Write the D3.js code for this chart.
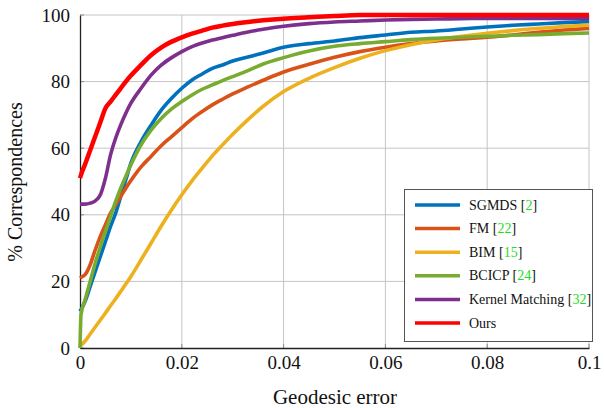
<!DOCTYPE html>
<html>
<head>
<meta charset="utf-8">
<script src="https://cdn.jsdelivr.net/npm/d3@7"></script>
<style>
  body { margin: 0; background: #fff; }
</style>
</head>
<body>
<div class="container"></div>
<script>
const width = 604;
const height = 408;
const serif = "'Liberation Serif', 'DejaVu Serif', serif";

// geodesic error values (shared x samples)
const errors = [0, 0.0002, 0.001, 0.002, 0.003, 0.004, 0.005, 0.006, 0.007, 0.008, 0.009, 0.010,
  0.012, 0.014, 0.016, 0.018, 0.020, 0.022, 0.024, 0.026, 0.028, 0.030, 0.033, 0.036, 0.040,
  0.045, 0.050, 0.055, 0.060, 0.065, 0.070, 0.075, 0.080, 0.085, 0.090, 0.095, 0.100];

const sgmds = [11, 11.5, 14, 18.5, 23, 27.5, 32, 36.5, 40.5, 45.5, 50.5, 55.5,
  62, 67, 71.5, 75, 78, 80.5, 82.3, 84, 85, 86.2, 87.4, 88.6, 90.3,
  91.4, 92.2, 93.2, 94, 94.8, 95.2, 95.8, 96.4, 96.9, 97.3, 97.7, 98];
const fm = [21, 21.2, 22, 25, 29.5, 33.5, 37, 40.5, 43, 45.5, 48, 50.3,
  54.4, 57.6, 60.8, 63.5, 66.2, 68.8, 71, 73, 74.7, 76.3, 78.4, 80.4, 82.9,
  85.2, 87.3, 89, 90.3, 91.4, 92.2, 92.8, 93.3, 94, 94.8, 95.5, 96];
const bim = [0.5, 0.8, 2.1, 4.2, 6.3, 8.4, 10.5, 12.7, 14.8, 17, 19.2, 21.5,
  26.5, 31.6, 36.7, 41.5, 46, 50.2, 54, 57.7, 61, 64.2, 68.6, 72.6, 77,
  81, 84.2, 87, 89.3, 91.1, 92.5, 93.6, 94.5, 95.3, 96, 96.5, 97];
const bcicp = [0, 10, 14.5, 20, 25.5, 30.5, 35, 39.5, 44, 48, 51.5, 55,
  61, 65.5, 69, 71.8, 74, 76, 77.7, 79, 80.3, 81.5, 83.3, 85.3, 87.2,
  89.2, 90.6, 91.4, 92, 92.6, 93, 93.3, 93.6, 93.9, 94.1, 94.4, 94.6];
const kernel = [43.2, 43.2, 43.2, 43.5, 44.2, 46, 51, 58, 63, 67, 70.5, 73.5,
  78, 82, 85, 87.2, 89, 90.5, 91.6, 92.5, 93.2, 93.9, 94.9, 95.7, 96.6,
  97.4, 97.9, 98.2, 98.5, 98.7, 98.8, 98.9, 99, 99, 99, 99, 99];
const ours = [51, 52, 55.2, 59.4, 63.6, 67.8, 72, 74, 76, 78, 80, 81.8,
  85, 88, 90.3, 92, 93.3, 94.4, 95.3, 96.2, 96.8, 97.3, 97.9, 98.4, 98.9,
  99.3, 99.7, 100, 100, 100, 100, 100, 100, 100, 100, 100, 100];

const names = ["SGMDS", "FM", "BIM", "BCICP", "Kernel Matching", "Ours"];
const refs = ["2", "22", "15", "24", "32", null];
const colors = ["#0072BD", "#D95319", "#EDB120", "#77AC30", "#7E2F8E", "#FF0000"];
const allSeries = [sgmds, fm, bim, bcicp, kernel, ours];

const xTicks = [0, 0.02, 0.04, 0.06, 0.08, 0.1];
const yTicks = [0, 20, 40, 60, 80, 100];

const svg = d3.select(".container")
    .append("svg")
    .attr("width", width)
    .attr("height", height)
    .attr("font-family", serif);

const xScale = d3.scaleLinear().domain([0, 0.1]).range([80, 589]);
const yScale = d3.scaleLinear().domain([0, 100]).range([348, 15]);

// grid
const grid = svg.append("g");
grid.selectAll(".vx")
    .data(xTicks.slice(1))
    .enter()
    .append("line")
    .attr("x1", d => xScale(d)).attr("x2", d => xScale(d))
    .attr("y1", yScale(0)).attr("y2", yScale(100))
    .attr("stroke", "#c4c4c4").attr("stroke-width", 1);
grid.selectAll(".hy")
    .data(yTicks.slice(1))
    .enter()
    .append("line")
    .attr("x1", xScale(0)).attr("x2", xScale(0.1))
    .attr("y1", d => yScale(d)).attr("y2", d => yScale(d))
    .attr("stroke", "#c4c4c4").attr("stroke-width", 1);

// small inner ticks
grid.selectAll(".tx")
    .data(xTicks)
    .enter()
    .append("line")
    .attr("x1", d => xScale(d)).attr("x2", d => xScale(d))
    .attr("y1", yScale(0)).attr("y2", yScale(0) - 4)
    .attr("stroke", "#8a8a8a");
grid.selectAll(".ty")
    .data(yTicks)
    .enter()
    .append("line")
    .attr("x1", xScale(0)).attr("x2", xScale(0) + 4)
    .attr("y1", d => yScale(d)).attr("y2", d => yScale(d))
    .attr("stroke", "#8a8a8a");

// axes (left + bottom)
const xAxis = svg.append("g")
    .attr("transform", `translate(0,${yScale(0)})`)
    .call(d3.axisBottom(xScale).tickValues(xTicks).tickSize(0).tickPadding(8)
        .tickFormat(d => d === 0 ? "0" : d3.format("")(+d.toFixed(2))));
const yAxis = svg.append("g")
    .attr("transform", `translate(${xScale(0)},0)`)
    .call(d3.axisLeft(yScale).tickValues(yTicks).tickSize(0).tickPadding(10));

[xAxis, yAxis].forEach(a => {
    a.attr("font-family", serif).attr("font-size", 19);
    a.select(".domain").attr("stroke", "#222").attr("stroke-width", 1.3);
    a.selectAll("text").attr("fill", "#111");
});

// curves
const line = d3.line()
    .x((d, i) => xScale(errors[i]))
    .y(d => yScale(d))
    .curve(d3.curveMonotoneX);

svg.append("g")
    .selectAll("path")
    .data(allSeries)
    .enter()
    .append("path")
    .attr("d", d => line(d))
    .attr("fill", "none")
    .attr("stroke", (d, i) => colors[i])
    .attr("stroke-width", (d, i) => i === 5 ? 4.5 : 3.6)
    .attr("stroke-linejoin", "round");

// axis titles
svg.append("text")
    .attr("x", 335).attr("y", 404)
    .attr("text-anchor", "middle")
    .attr("font-size", 21)
    .attr("fill", "#111")
    .text("Geodesic error");

svg.append("text")
    .attr("transform", "translate(22,182) rotate(-90)")
    .attr("text-anchor", "middle")
    .attr("font-size", 20)
    .attr("fill", "#111")
    .text("% Correspondences");

// legend
const legend = svg.append("g");
legend.append("rect")
    .attr("x", 404.5).attr("y", 189.5)
    .attr("width", 188).attr("height", 152)
    .attr("fill", "#fff")
    .attr("stroke", "#555");

const rows = legend.selectAll(".row")
    .data(names)
    .enter()
    .append("g")
    .attr("transform", (d, i) => `translate(0,${205 + i * 23.6})`);

rows.append("line")
    .attr("x1", 415).attr("x2", 460)
    .attr("stroke", (d, i) => colors[i])
    .attr("stroke-width", 3.5);

const labels = rows.append("text")
    .attr("x", 469).attr("y", 4.5)
    .attr("font-size", 14)
    .attr("fill", "#111");
labels.append("tspan").text(d => d);
labels.each(function(d, i) {
    if (refs[i]) {
        const t = d3.select(this);
        t.append("tspan").text(" [");
        t.append("tspan").attr("fill", "#22dd22").text(refs[i]);
        t.append("tspan").text("]");
    }
});
</script>
</body>
</html>
